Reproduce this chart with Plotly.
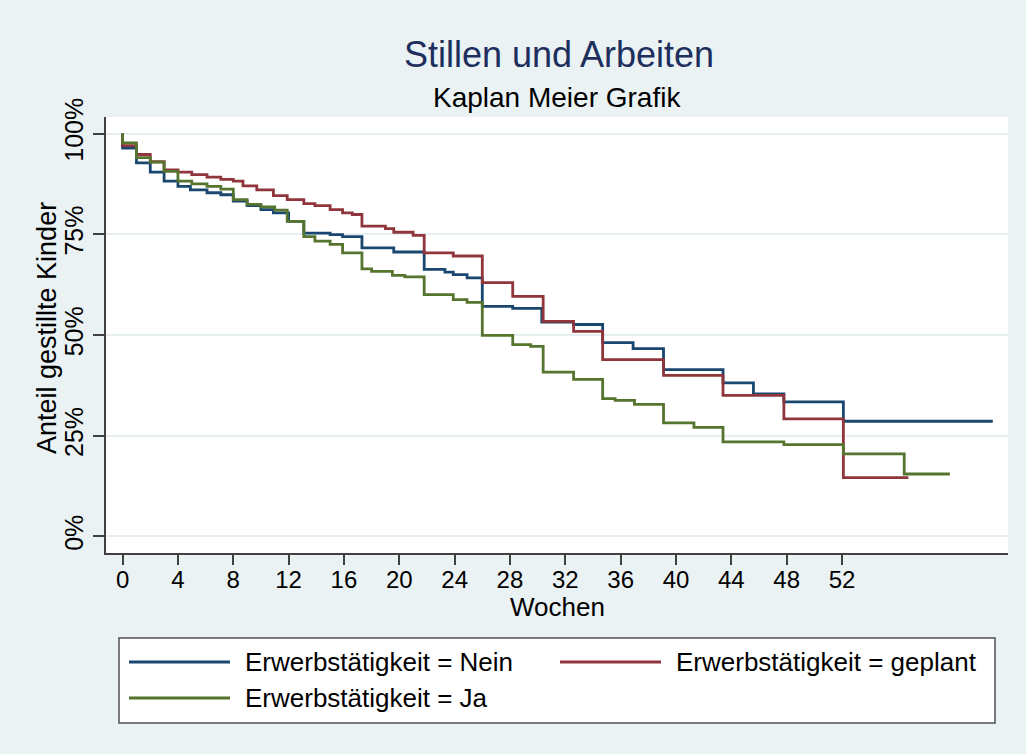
import plotly.graph_objects as go

# ---------------- data ----------------
series_names = ["Erwerbstätigkeit = Nein", "Erwerbstätigkeit = geplant", "Erwerbstätigkeit = Ja"]

weeks_nein = [0, 0, 1.0, 2.0, 3.0, 4.0, 4.9, 6.1, 7.1, 8.0, 9.0, 10.0, 10.9, 12.0, 13.1, 15.0, 15.9,
              17.3, 19.6, 21.8, 23.3, 23.9, 24.9, 26.0, 28.2, 30.3, 32.6, 34.7, 36.9, 39.1, 43.4,
              45.6, 47.8, 52.1, 62.9]
surv_nein = [100, 96.4, 92.7, 90.4, 88.2, 86.9, 86.0, 85.3, 84.8, 83.2, 82.1, 81.1, 80.3, 78.2, 75.3,
             74.9, 74.4, 71.6, 70.6, 66.3, 65.6, 65.0, 64.2, 57.1, 56.6, 53.2, 52.6, 48.1, 46.6,
             41.4, 38.1, 35.4, 33.4, 28.6, 28.6]

weeks_geplant = [0, 0, 1.0, 2.0, 3.0, 4.0, 5.0, 6.1, 7.1, 8.0, 8.7, 9.7, 10.9, 11.9, 13.1, 13.9, 15.0,
                 15.9, 16.6, 17.3, 19.0, 19.6, 21.0, 21.8, 23.9, 26.0, 28.2, 30.4, 32.6, 34.7, 39.1,
                 43.4, 47.8, 52.1, 56.8]
surv_geplant = [100, 97.0, 94.8, 93.0, 91.0, 90.4, 89.8, 89.2, 88.6, 88.2, 87.0, 86.0, 84.6, 83.6,
                82.6, 82.1, 81.1, 80.3, 79.9, 77.0, 76.4, 75.5, 74.7, 70.4, 69.6, 63.0, 59.6, 53.4,
                50.9, 43.9, 40.0, 35.0, 29.2, 14.6, 14.6]

weeks_ja = [0, 0, 1.0, 2.0, 3.0, 4.0, 5.0, 6.1, 7.1, 8.0, 9.0, 10.0, 11.0, 11.9, 13.1, 13.9, 15.0,
            15.9, 17.3, 18.0, 19.5, 20.4, 21.8, 23.9, 24.9, 26.0, 28.2, 29.5, 30.4, 32.6, 34.7,
            35.6, 37.0, 39.1, 41.3, 43.4, 47.8, 52.1, 56.5, 59.8]
surv_ja = [100, 97.7, 94.0, 92.9, 90.6, 88.2, 87.5, 86.9, 86.2, 83.6, 82.4, 81.8, 81.0, 78.2, 74.4,
           73.3, 72.5, 70.4, 66.4, 65.8, 64.8, 64.4, 60.0, 58.8, 58.1, 49.9, 47.6, 47.2, 40.8,
           39.0, 34.2, 33.8, 32.8, 28.2, 27.1, 23.5, 22.8, 20.5, 15.5, 15.5]

x_ticks = [0, 4, 8, 12, 16, 20, 24, 28, 32, 36, 40, 44, 48, 52]
y_ticks = [0, 25, 50, 75, 100]
y_tick_labels = ["0%", "25%", "50%", "75%", "100%"]

colors = ["#1A476F", "#90353B", "#55752F"]

# ---------------- layout geometry ----------------
W, H = 1026, 754
L, R, T, B = 106, 18, 117, 201
plot_w = W - L - R
plot_h = H - T - B
FONT = "Liberation Sans, Arial, sans-serif"
BG = "#EAF2F3"
AXC = "#404040"


def px_x(px):
    return (px - L) / plot_w


def px_y(py):
    return (H - B - py) / plot_h


fig = go.Figure()
for name, xs, ys, c in zip(series_names,
                           [weeks_nein, weeks_geplant, weeks_ja],
                           [surv_nein, surv_geplant, surv_ja],
                           colors):
    fig.add_trace(go.Scatter(x=xs, y=ys, mode="lines", name=name,
                             line=dict(color=c, width=2.8, shape="hv"),
                             showlegend=False))

# custom legend (box, line samples, labels)
shapes = [dict(type="rect", xref="paper", yref="paper",
               x0=px_x(119), x1=px_x(995), y0=px_y(723), y1=px_y(638),
               fillcolor="white", line=dict(color="#505050", width=1.5), layer="above")]
annotations = []
legend_pos = [(129, 662), (560, 662), (129, 698)]
for (lx, ly), name, c in zip(legend_pos, series_names, colors):
    shapes.append(dict(type="line", xref="paper", yref="paper",
                       x0=px_x(lx), x1=px_x(lx + 101), y0=px_y(ly), y1=px_y(ly),
                       line=dict(color=c, width=2.8), layer="above"))
    annotations.append(dict(xref="paper", yref="paper", x=px_x(lx + 114), y=px_y(ly),
                            xanchor="left", yanchor="middle", showarrow=False,
                            text=name, font=dict(family=FONT, size=26, color="black")))

# subtitle
annotations.append(dict(xref="paper", yref="paper", x=px_x(557), y=px_y(97),
                        xanchor="center", yanchor="middle", showarrow=False,
                        text="Kaplan Meier Grafik",
                        font=dict(family=FONT, size=28, color="black")))
# axis titles
annotations.append(dict(xref="paper", yref="paper", x=px_x(557), y=px_y(607),
                        xanchor="center", yanchor="middle", showarrow=False,
                        text="Wochen", font=dict(family=FONT, size=26, color="black")))
annotations.append(dict(xref="paper", yref="paper", x=px_x(47), y=px_y(328),
                        xanchor="center", yanchor="middle", showarrow=False, textangle=-90,
                        text="Anteil gestillte Kinder", font=dict(family=FONT, size=27, color="black")))

fig.update_layout(
    width=W, height=H,
    margin=dict(l=L, r=R, t=T, b=B, pad=0),
    paper_bgcolor=BG, plot_bgcolor="white",
    font=dict(family=FONT, color="black"),
    title=dict(text="Stillen und Arbeiten", x=559 / W, xanchor="center",
               y=1 - 54 / H, yanchor="middle", yref="container",
               font=dict(family=FONT, size=36, color="#1E2F5E")),
    shapes=shapes, annotations=annotations,
    showlegend=False,
)

fig.update_xaxes(range=[-1.2, 64.0], tickvals=x_ticks, showgrid=False, zeroline=False,
                 showline=True, linecolor=AXC, linewidth=1.5,
                 ticks="outside", ticklen=10, tickwidth=1.5, tickcolor=AXC,
                 ticklabelstandoff=-6,
                 tickfont=dict(family=FONT, size=24, color="black"))
fig.update_yaxes(range=[-4.1, 104.1], tickvals=y_ticks, ticktext=y_tick_labels, tickangle=-90,
                 showgrid=True, gridcolor="#E6EEF1", gridwidth=1.5, zeroline=False,
                 showline=True, linecolor=AXC, linewidth=1.5,
                 ticks="outside", ticklen=11, tickwidth=1.5, tickcolor=AXC,
                 tickfont=dict(family=FONT, size=25, color="black"))

fig.write_html("out.html", config={"displayModeBar": False},
               post_script="document.body.style.margin='0';")
